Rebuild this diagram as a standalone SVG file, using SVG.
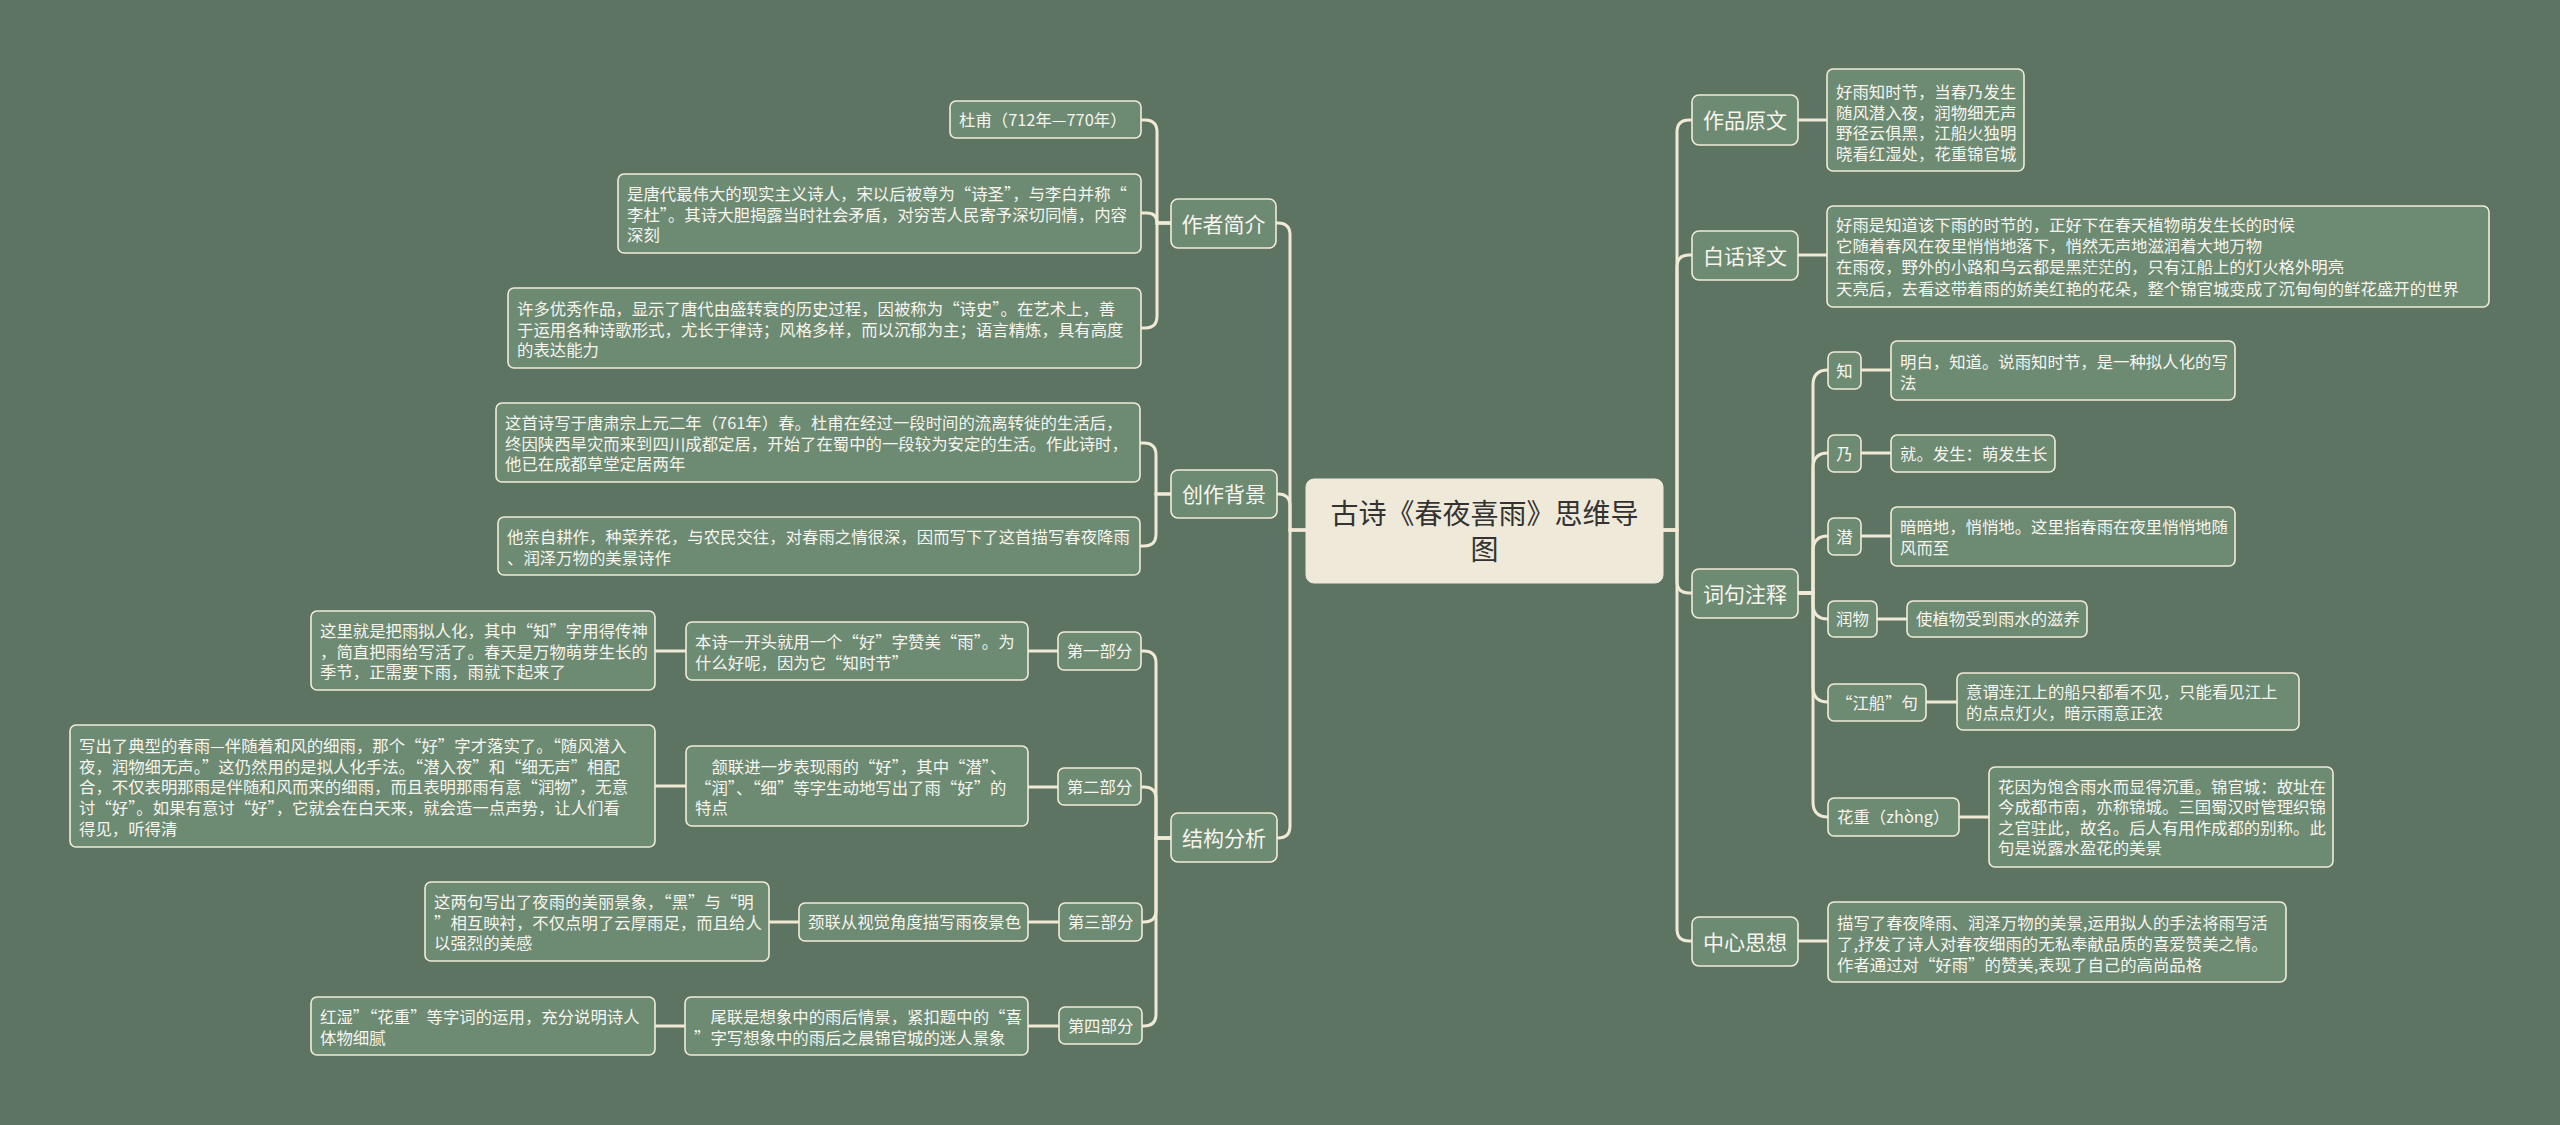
<svg xmlns="http://www.w3.org/2000/svg" width="2560" height="1125" viewBox="0 0 2560 1125">
<style>
.n{fill:#6d8a73;stroke:#f1ebd8;stroke-width:1.6}
.t{fill:#f7f5ee;font-family:"Noto Sans CJK SC","Noto Sans",sans-serif;font-size:16.4px}
.m{text-anchor:middle}
.l1{fill:#f7f5ee;font-family:"Noto Sans CJK SC","Noto Sans",sans-serif;font-size:21px;text-anchor:middle}
.c{fill:#efe9d9;stroke:#efe9d9}
.ct{fill:#333;font-family:"Noto Sans CJK SC","Noto Sans",sans-serif;font-size:28px;text-anchor:middle}
.cn{fill:none;stroke:#efe9d5;stroke-width:3}
</style>
<rect width="2560" height="1125" fill="#5e7462"/>
<g id="connectors" class="cn">
<path d="M1306 530H1290V235Q1290 223 1278 223H1276"/>
<path d="M1306 530H1290V506Q1290 494 1278 494H1277"/>
<path d="M1306 530H1290V826Q1290 838 1278 838H1277"/>
<path d="M1171 223H1157V132Q1157 120 1145 120H1141"/>
<path d="M1171 223H1157Q1157 213 1147 213H1141"/>
<path d="M1171 223H1157V316Q1157 328 1145 328H1141"/>
<path d="M1171 494H1156V455Q1156 443 1144 443H1140"/>
<path d="M1171 494H1156V534Q1156 546 1144 546H1140"/>
<path d="M1171 838H1156V663Q1156 651 1144 651H1141"/>
<path d="M1171 838H1156V799Q1156 787 1144 787H1141"/>
<path d="M1171 838H1156V910Q1156 922 1144 922H1142"/>
<path d="M1171 838H1156V1014Q1156 1026 1144 1026H1142"/>
<path d="M1058 651H1028"/>
<path d="M686 651H655"/>
<path d="M1058 787H1028"/>
<path d="M686 786H655"/>
<path d="M1059 922H1028"/>
<path d="M799 922H769"/>
<path d="M1059 1026H1028"/>
<path d="M685 1026H655"/>
<path d="M1663 530H1677V132Q1677 120 1689 120H1692"/>
<path d="M1663 530H1677V267Q1677 255 1689 255H1692"/>
<path d="M1663 530H1677V581Q1677 593 1689 593H1692"/>
<path d="M1663 530H1677V929Q1677 941 1689 941H1692"/>
<path d="M1798 120H1827"/>
<path d="M1798 255H1827"/>
<path d="M1798 941H1828"/>
<path d="M1796 593H1813V385Q1813 370 1828 370"/>
<path d="M1796 593H1813V468Q1813 453 1828 453"/>
<path d="M1796 593H1813V551Q1813 536 1828 536"/>
<path d="M1796 593H1813V604Q1813 619 1828 619"/>
<path d="M1796 593H1813V687Q1813 702 1828 702"/>
<path d="M1796 593H1813V802Q1813 817 1828 817"/>
<path d="M1861 370H1891"/>
<path d="M1861 453H1891"/>
<path d="M1861 536H1891"/>
<path d="M1877 619H1907"/>
<path d="M1926 702H1957"/>
<path d="M1959 817H1989"/>
</g>
<g id="center"><rect class="c" x="1306" y="479" width="357" height="104" rx="8"/><text class="ct" x="1484.5" y="523.6">古诗《春夜喜雨》思维导<tspan x="1484.5" y="559.6">图</tspan></text></g>

<g id="zzjj"><rect class="n" x="1171" y="199" width="105" height="49" rx="7"/><text class="l1" x="1223.5" y="231.5">作者简介</text></g>
<g id="czbj"><rect class="n" x="1171" y="470" width="106" height="48" rx="7"/><text class="l1" x="1224" y="502">创作背景</text></g>
<g id="jgfx"><rect class="n" x="1171" y="813" width="106" height="49" rx="7"/><text class="l1" x="1224" y="845.5">结构分析</text></g>
<g id="zpyw"><rect class="n" x="1692" y="95" width="106" height="50" rx="7"/><text class="l1" x="1745" y="128">作品原文</text></g>
<g id="bhyw"><rect class="n" x="1692" y="231" width="106" height="49" rx="7"/><text class="l1" x="1745" y="263.5">白话译文</text></g>
<g id="cjzs"><rect class="n" x="1692" y="569" width="106" height="49" rx="7"/><text class="l1" x="1745" y="601.5">词句注释</text></g>
<g id="zxsx"><rect class="n" x="1692" y="917" width="106" height="49" rx="7"/><text class="l1" x="1745" y="949.5">中心思想</text></g>

<g id="dufu"><rect class="n" x="950" y="101" width="191" height="37" rx="6"/><text class="t" x="959" y="125.5">杜甫（712年—770年）</text></g>
<g id="stdz"><rect class="n" x="618" y="174" width="523" height="79" rx="6"/><text class="t" x="627" y="200">是唐代最伟大的现实主义诗人，宋以后被尊为“诗圣”，与李白并称“<tspan x="627" dy="20.6">李杜”。其诗大胆揭露当时社会矛盾，对穷苦人民寄予深切同情，内容</tspan><tspan x="627" dy="20.6">深刻</tspan></text></g>
<g id="xdyx"><rect class="n" x="508" y="288" width="633" height="80" rx="6"/><text class="t" x="517" y="315">许多优秀作品，显示了唐代由盛转衰的历史过程，因被称为“诗史”。在艺术上，善<tspan x="517" dy="20.6">于运用各种诗歌形式，尤长于律诗；风格多样，而以沉郁为主；语言精炼，具有高度</tspan><tspan x="517" dy="20.6">的表达能力</tspan></text></g>
<g id="zss"><rect class="n" x="496" y="403" width="644" height="79" rx="6"/><text class="t" x="505" y="429">这首诗写于唐肃宗上元二年（761年）春。杜甫在经过一段时间的流离转徙的生活后，<tspan x="505" dy="20.6">终因陕西旱灾而来到四川成都定居，开始了在蜀中的一段较为安定的生活。作此诗时，</tspan><tspan x="505" dy="20.6">他已在成都草堂定居两年</tspan></text></g>
<g id="tqz"><rect class="n" x="498" y="517" width="642" height="58" rx="6"/><text class="t" x="507" y="543">他亲自耕作，种菜养花，与农民交往，对春雨之情很深，因而写下了这首描写春夜降雨<tspan x="507" dy="20.6">、润泽万物的美景诗作</tspan></text></g>

<g id="p1"><rect class="n" x="1058" y="632" width="83" height="38" rx="6"/><text class="t m" x="1099.5" y="657">第一部分</text></g>
<g id="p2"><rect class="n" x="1058" y="768" width="83" height="37" rx="6"/><text class="t m" x="1099.5" y="792.5">第二部分</text></g>
<g id="p3"><rect class="n" x="1059" y="903" width="83" height="38" rx="6"/><text class="t m" x="1100.5" y="928">第三部分</text></g>
<g id="p4"><rect class="n" x="1059" y="1007" width="83" height="37" rx="6"/><text class="t m" x="1100.5" y="1031.5">第四部分</text></g>

<g id="bs"><rect class="n" x="686" y="622" width="342" height="58" rx="6"/><text class="t" x="695" y="648">本诗一开头就用一个“好”字赞美“雨”。为<tspan x="695" dy="20.6">什么好呢，因为它“知时节”</tspan></text></g>
<g id="zljs"><rect class="n" x="311" y="611" width="344" height="79" rx="6"/><text class="t" x="320" y="637">这里就是把雨拟人化，其中“知”字用得传神<tspan x="320" dy="20.6">，简直把雨给写活了。春天是万物萌芽生长的</tspan><tspan x="320" dy="20.6">季节，正需要下雨，雨就下起来了</tspan></text></g>
<g id="hl"><rect class="n" x="686" y="746" width="342" height="80" rx="6"/><text class="t" x="695" y="773">　颔联进一步表现雨的“好”，其中“潜”、<tspan x="695" dy="20.6">“润”、“细”等字生动地写出了雨“好”的</tspan><tspan x="695" dy="20.6">特点</tspan></text></g>
<g id="xcl"><rect class="n" x="70" y="725" width="585" height="122" rx="6"/><text class="t" x="79" y="752">写出了典型的春雨—伴随着和风的细雨，那个“好”字才落实了。“随风潜入<tspan x="79" dy="20.7">夜，润物细无声。”这仍然用的是拟人化手法。“潜入夜”和“细无声”相配</tspan><tspan x="79" dy="20.7">合，不仅表明那雨是伴随和风而来的细雨，而且表明那雨有意“润物”，无意</tspan><tspan x="79" dy="20.7">讨“好”。如果有意讨“好”，它就会在白天来，就会造一点声势，让人们看</tspan><tspan x="79" dy="20.7">得见，听得清</tspan></text></g>
<g id="jlc"><rect class="n" x="799" y="903" width="229" height="38" rx="6"/><text class="t" x="808" y="928">颈联从视觉角度描写雨夜景色</text></g>
<g id="lj"><rect class="n" x="425" y="882" width="344" height="79" rx="6"/><text class="t" x="434" y="908">这两句写出了夜雨的美丽景象，“黑”与“明<tspan x="434" dy="20.6">”相互映衬，不仅点明了云厚雨足，而且给人</tspan><tspan x="434" dy="20.6">以强烈的美感</tspan></text></g>
<g id="wl"><rect class="n" x="685" y="997" width="343" height="58" rx="6"/><text class="t" x="694" y="1023">　尾联是想象中的雨后情景，紧扣题中的“喜<tspan x="694" dy="20.6">”字写想象中的雨后之晨锦官城的迷人景象</tspan></text></g>
<g id="hs"><rect class="n" x="311" y="997" width="344" height="58" rx="6"/><text class="t" x="320" y="1023">红湿”“花重”等字词的运用，充分说明诗人<tspan x="320" dy="20.6">体物细腻</tspan></text></g>

<g id="yw"><rect class="n" x="1827" y="69" width="197" height="102" rx="6"/><text class="t" x="1836" y="98">好雨知时节，当春乃发生<tspan x="1836" dy="20.6">随风潜入夜，润物细无声</tspan><tspan x="1836" dy="20.6">野径云俱黑，江船火独明</tspan><tspan x="1836" dy="20.6">晓看红湿处，花重锦官城</tspan></text></g>
<g id="bh"><rect class="n" x="1827" y="206" width="662" height="101" rx="6"/><text class="t" x="1836" y="231">好雨是知道该下雨的时节的，正好下在春天植物萌发生长的时候<tspan x="1836" dy="21.2">它随着春风在夜里悄悄地落下，悄然无声地滋润着大地万物</tspan><tspan x="1836" dy="21.2">在雨夜，野外的小路和乌云都是黑茫茫的，只有江船上的灯火格外明亮</tspan><tspan x="1836" dy="21.2">天亮后，去看这带着雨的娇美红艳的花朵，整个锦官城变成了沉甸甸的鲜花盛开的世界</tspan></text></g>

<g id="zhi"><rect class="n" x="1828" y="352" width="33" height="37" rx="6"/><text class="t m" x="1844.5" y="376.5">知</text></g>
<g id="nai"><rect class="n" x="1828" y="435" width="33" height="37" rx="6"/><text class="t m" x="1844.5" y="459.5">乃</text></g>
<g id="qian"><rect class="n" x="1828" y="518" width="33" height="37" rx="6"/><text class="t m" x="1844.5" y="542.5">潜</text></g>
<g id="runwu"><rect class="n" x="1828" y="601" width="49" height="36" rx="6"/><text class="t m" x="1852.5" y="625">润物</text></g>
<g id="jc"><rect class="n" x="1828" y="684" width="98" height="37" rx="6"/><text class="t m" x="1877" y="708.5">“江船”句</text></g>
<g id="hz"><rect class="n" x="1828" y="798" width="131" height="38" rx="6"/><text class="t" x="1837" y="823">花重（zhòng）</text></g>

<g id="zhi-d"><rect class="n" x="1891" y="341" width="344" height="59" rx="6"/><text class="t" x="1900" y="368">明白，知道。说雨知时节，是一种拟人化的写<tspan x="1900" dy="20.6">法</tspan></text></g>
<g id="nai-d"><rect class="n" x="1891" y="435" width="164" height="37" rx="6"/><text class="t" x="1900" y="459.5">就。发生：萌发生长</text></g>
<g id="qian-d"><rect class="n" x="1891" y="507" width="344" height="59" rx="6"/><text class="t" x="1900" y="533">暗暗地，悄悄地。这里指春雨在夜里悄悄地随<tspan x="1900" dy="20.6">风而至</tspan></text></g>
<g id="runwu-d"><rect class="n" x="1907" y="601" width="180" height="36" rx="6"/><text class="t" x="1916" y="625">使植物受到雨水的滋养</text></g>
<g id="jc-d"><rect class="n" x="1957" y="673" width="342" height="57" rx="6"/><text class="t" x="1966" y="698">意谓连江上的船只都看不见，只能看见江上<tspan x="1966" dy="20.6">的点点灯火，暗示雨意正浓</tspan></text></g>
<g id="hz-d"><rect class="n" x="1989" y="767" width="344" height="100" rx="6"/><text class="t" x="1998" y="793">花因为饱含雨水而显得沉重。锦官城：故址在<tspan x="1998" dy="20.4">今成都市南，亦称锦城。三国蜀汉时管理织锦</tspan><tspan x="1998" dy="20.4">之官驻此，故名。后人有用作成都的别称。此</tspan><tspan x="1998" dy="20.4">句是说露水盈花的美景</tspan></text></g>
<g id="zx-d"><rect class="n" x="1828" y="902" width="458" height="80" rx="6"/><text class="t" x="1837" y="929">描写了春夜降雨、润泽万物的美景,运用拟人的手法将雨写活<tspan x="1837" dy="21">了,抒发了诗人对春夜细雨的无私奉献品质的喜爱赞美之情。</tspan><tspan x="1837" dy="21">作者通过对“好雨”的赞美,表现了自己的高尚品格</tspan></text></g>
</svg>
